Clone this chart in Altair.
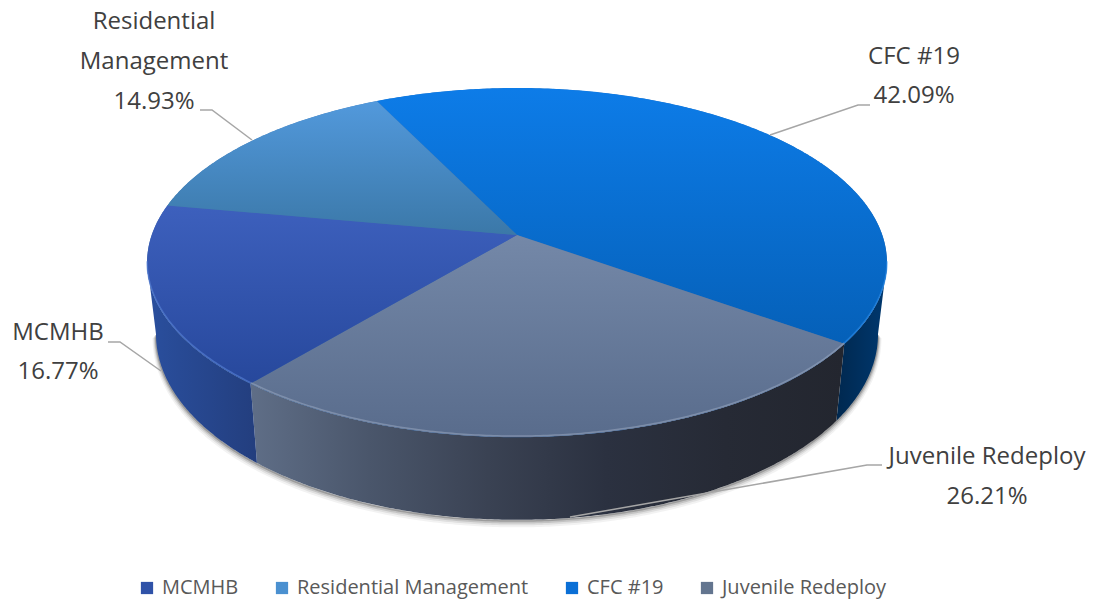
import numpy as np
import pandas as pd
import altair as alt

# Slice shares in percent, in drawing order clockwise from the start angle
names = ["CFC #19", "Juvenile Redeploy", "MCMHB", "Residential Management"]
shares = [42.09, 26.21, 16.77, 14.93]
legend_order = ["MCMHB", "Residential Management", "CFC #19", "Juvenile Redeploy"]
legend_colors = ["#2f52a8", "#4a90d0", "#0a6fd6", "#63758f"]

face_stops = {
    "CFC #19": ["#0d7ce8", "#0560b8"],
    "Juvenile Redeploy": ["#7488a8", "#596c8c"],
    "MCMHB": ["#3d60bd", "#27489c"],
    "Residential Management": ["#5299dc", "#3b78a8"],
}
rim_stops = {
    "CFC #19": ["#00284f", "#00386f"],
    "Juvenile Redeploy": ["#5f6e87", "#4a566b", "#3a4253", "#2b3140", "#262a35", "#23262f"],
    "MCMHB": ["#2a4f9e", "#233e7e"],
    "Residential Management": ["#2c6088", "#2c6088"],
}
rim_light = {
    "CFC #19": "#2b8cea",
    "Juvenile Redeploy": "#94a3bc",
    "MCMHB": "#5a84d8",
    "Residential Management": "#6aa8dc",
}

# Perspective disc: top face and the lower edge of the cylinder
START_DEG = -26.0
CX, PERSP = 517.0, 0.1576
TOP = dict(a=365.3, b=170.2, y0=235.0)
BASE = dict(a=356.5, b=181.0, y0=305.0)
# Angles where the outline of the disc is widest, so the wall meets it on a tangent
RIM_FROM, RIM_TO = 99.0, 261.0


def project(deg, disc):
    t = np.radians(deg)
    w = 1 + PERSP * np.cos(t)
    return CX + disc["a"] * np.sin(t) / w, disc["y0"] - disc["b"] * np.cos(t) / w


def arc_deg(d0, d1):
    return np.linspace(d0, d1, max(int(abs(d1 - d0) * 2), 2))


def frame(xs, ys):
    return pd.DataFrame({"x": xs, "y": ys, "i": range(len(xs))})


X = alt.X("x:Q", scale=alt.Scale(domain=[0, 1098]), axis=None)
Y = alt.Y("y:Q", scale=alt.Scale(domain=[601, 0]), axis=None)
ORD = alt.Order("i:Q")


def gradient(colors, horizontal=False):
    n = len(colors) - 1
    stops = [alt.GradientStop(offset=k / n, color=c) for k, c in enumerate(colors)]
    return alt.LinearGradient(
        gradient="linear", stops=stops,
        x1=0, y1=0, x2=1 if horizontal else 0, y2=0 if horizontal else 1,
    )


def polygon(df, fill):
    return alt.Chart(df).mark_line(fill=fill, strokeWidth=0, interpolate="linear-closed").encode(x=X, y=Y, order=ORD)


def stroke_path(df, color, width, opacity=1.0):
    return alt.Chart(df).mark_line(color=color, strokeWidth=width, opacity=opacity).encode(x=X, y=Y, order=ORD)


edges = START_DEG + np.concatenate([[0], np.cumsum(shares)]) * 3.6
spans = {n: (edges[k], edges[k + 1]) for k, n in enumerate(names)}

layers = []

# Soft contact shadow below the cylinder
sx, sy = project(arc_deg(RIM_FROM, RIM_TO), BASE)
for off, wid, op in [(4, 7, 0.05), (3, 5, 0.08), (2, 3.5, 0.12), (1, 2, 0.2)]:
    layers.append(stroke_path(frame(sx, sy + off), "#000000", wid, op))

# Cylinder wall, one band per slice
for n in names:
    d0, d1 = spans[n]
    d0, d1 = max(d0, RIM_FROM), min(d1, RIM_TO)
    if d1 <= d0:
        continue
    deg = arc_deg(d0, d1)
    tx, ty = project(deg, TOP)
    bx, by = project(deg[::-1], BASE)
    layers.append(polygon(frame(np.r_[tx, bx], np.r_[ty, by]), gradient(rim_stops[n], horizontal=True)))

# Underlay that closes the hairline seams between wedges
ux, uy = project(arc_deg(0, 359.5), TOP)
layers.append(polygon(frame(ux, uy + 0.2), "#3f6ea8"))

# Top face wedges
for n in names:
    d0, d1 = spans[n]
    ax, ay = project(arc_deg(d0, d1), TOP)
    layers.append(polygon(frame(np.r_[CX, ax], np.r_[TOP["y0"], ay]), gradient(face_stops[n])))

# Bevel highlight along the front of the top face
for n in names:
    d0, d1 = spans[n]
    d0, d1 = max(d0, RIM_FROM), min(d1, RIM_TO)
    if d1 > d0:
        ax, ay = project(arc_deg(d0, d1), TOP)
        layers.append(stroke_path(frame(ax, ay - 1), rim_light[n], 1.5, 0.6))

# Leader lines from slice labels
leaders = [
    ([770, 858, 870], [135, 105, 105]),
    ([200, 212, 252], [110, 110, 140]),
    ([108, 120, 161], [342, 342, 371]),
    ([882, 867, 570], [465, 465, 517]),
]
for lx, ly in leaders:
    layers.append(stroke_path(frame(lx, ly), "#a6a6a6", 1.5))

# Slice labels, one row per text line
label_lines = pd.DataFrame([
    ("Residential", 154, 22),
    ("Management", 154, 62),
    ("14.93%", 154, 102),
    ("CFC #19", 914, 57),
    ("42.09%", 914, 96),
    ("MCMHB", 58, 333),
    ("16.77%", 58, 372),
    ("Juvenile Redeploy", 987, 457),
    ("26.21%", 987, 497),
], columns=["t", "x", "y"])
layers.append(
    alt.Chart(label_lines)
    .mark_text(font="Open Sans", fontSize=24, color="#404040", align="center", baseline="middle")
    .encode(x=X, y=Y, text="t:N")
)

# Invisible keyed marks that give the chart its legend
key = pd.DataFrame({"name": legend_order, "x": [CX] * 4, "y": [TOP["y0"]] * 4})
layers.append(
    alt.Chart(key)
    .mark_square(size=1, opacity=0)
    .encode(
        x=X, y=Y,
        color=alt.Color(
            "name:N",
            scale=alt.Scale(domain=legend_order, range=legend_colors),
            legend=alt.Legend(
                title=None, orient="none", legendX=137, legendY=578, direction="horizontal",
                columns=4, columnPadding=33, symbolType="square", symbolSize=150, symbolOpacity=1,
                symbolStrokeWidth=0, labelFont="Open Sans", labelFontSize=20, labelColor="#595959",
                labelLimit=400, labelOffset=5,
            ),
        ),
    )
)

chart = (
    alt.layer(*layers)
    .resolve_scale(color="independent")
    .properties(width=1098, height=601, padding=0, autosize=alt.AutoSizeParams(type="none"), background="#ffffff")
    .configure_view(stroke=None)
)

chart.save("out.html", embed_options={"renderer": "svg", "actions": False})
